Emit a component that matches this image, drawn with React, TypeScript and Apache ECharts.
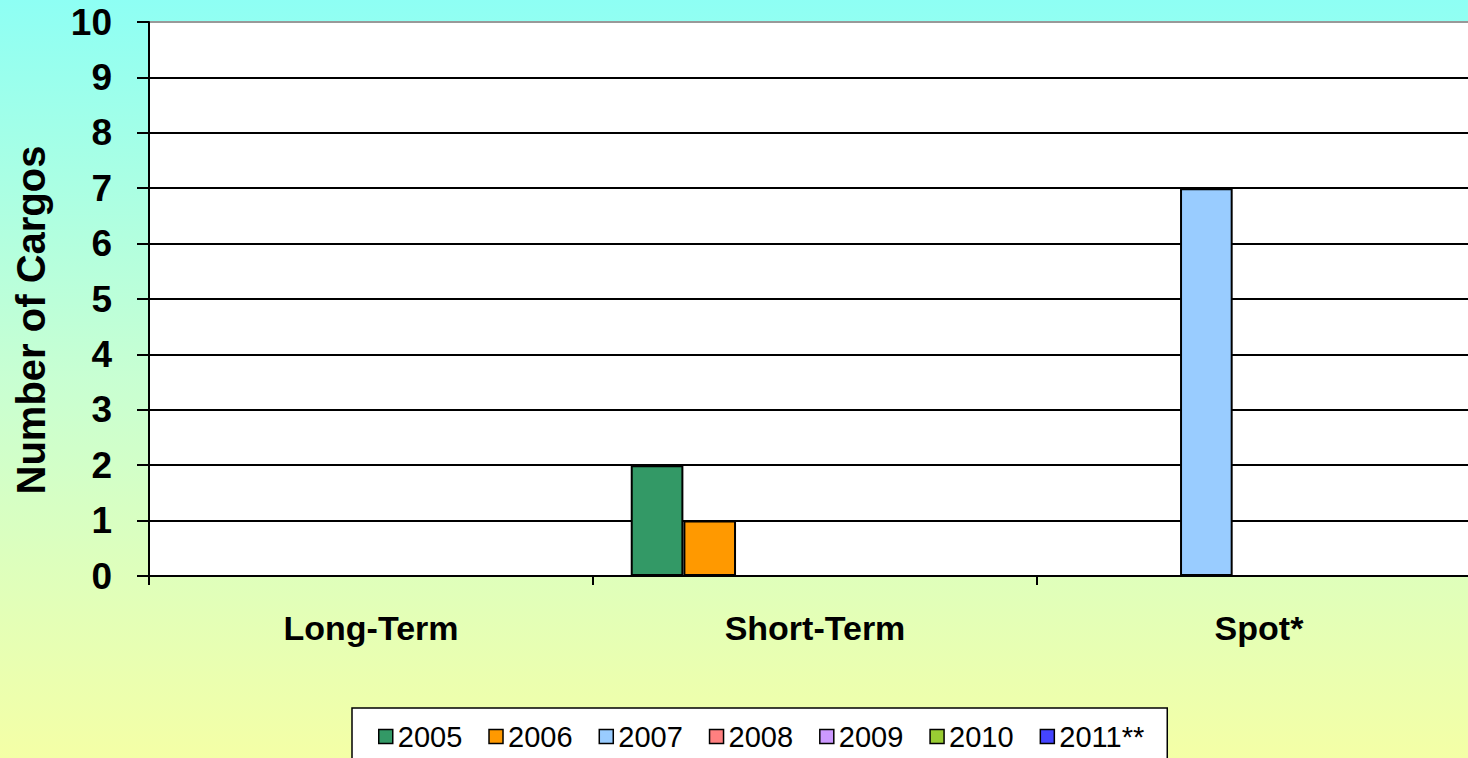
import React, { useEffect, useRef } from "react";
import * as echarts from "echarts";

const categories = ["Long-Term", "Short-Term", "Spot*"];
const seriesNames = ["2005", "2006", "2007", "2008", "2009", "2010", "2011**"];
const values2005 = [0, 2, 0];
const values2006 = [0, 1, 0];
const values2007 = [0, 0, 7];
const values2008 = [0, 0, 0];
const values2009 = [0, 0, 0];
const values2010 = [0, 0, 0];
const values2011 = [0, 0, 0];
const seriesColors = ["#339966", "#FF9900", "#99CCFF", "#FF8080", "#CC99FF", "#99CC33", "#4444FF"];
const yTitle = "Number of Cargos";

const FONT = "'Liberation Sans', Arial, sans-serif";

export default function App() {
  const ref = useRef<HTMLDivElement>(null);
  useEffect(() => {
    if (!ref.current) return;
    document.body.style.overflow = "hidden";
    const chart = echarts.init(ref.current, null, { renderer: "svg" });
    const allValues = [values2005, values2006, values2007, values2008, values2009, values2010, values2011];
    chart.setOption({
      animation: false,
      backgroundColor: new echarts.graphic.LinearGradient(0, 0, 0, 1, [
        { offset: 0, color: "#8EFFF4" },
        { offset: 0.5, color: "#C8FFD2" },
        { offset: 1, color: "#F4FFA6" },
      ]),
      textStyle: { fontFamily: FONT },
      grid: {
        left: 149,
        top: 22,
        right: 0,
        bottom: 182,
        show: true,
        backgroundColor: "#FFFFFF",
        borderColor: "#999999",
        borderWidth: 2,
      },
      legend: {
        data: seriesNames,
        left: 352,
        top: 708,
        padding: [14, 23, 30, 26],
        backgroundColor: "#FFFFFF",
        borderColor: "#000000",
        borderWidth: 1.5,
        borderRadius: 0,
        itemWidth: 14,
        itemHeight: 14,
        itemGap: 26,
        icon: "rect",
        itemStyle: { borderColor: "#000000", borderWidth: 1.5 },
        textStyle: { fontSize: 29, color: "#000000", fontFamily: FONT },
      },
      xAxis: {
        type: "category",
        data: categories,
        axisLine: { show: true, lineStyle: { color: "#000000", width: 2 } },
        axisTick: { show: true, length: 9, lineStyle: { color: "#000000", width: 2 } },
        axisLabel: { fontSize: 34, fontWeight: "bold", color: "#000000", margin: 35, fontFamily: FONT },
        splitLine: { show: false },
      },
      yAxis: {
        type: "value",
        min: 0,
        max: 10,
        interval: 1,
        axisLine: { show: true, lineStyle: { color: "#000000", width: 2 } },
        axisTick: { show: true, length: 12, lineStyle: { color: "#000000", width: 2 } },
        axisLabel: { fontSize: 37, fontWeight: "bold", color: "#000000", margin: 37, fontFamily: FONT },
        splitLine: { show: true, showMaxLine: false, lineStyle: { color: "#000000", width: 2 } },
      },
      graphic: [
        {
          type: "text",
          x: 31,
          y: 320,
          rotation: Math.PI / 2,
          style: {
            text: yTitle,
            fontSize: 40,
            fontWeight: "bold",
            fontFamily: FONT,
            fill: "#000000",
            align: "center",
            verticalAlign: "middle",
          },
        },
      ],
      series: seriesNames.map((name, i) => ({
        name,
        type: "bar",
        data: allValues[i],
        barGap: "0%",
        barCategoryGap: "17%",
        itemStyle: { color: seriesColors[i], borderColor: "#000000", borderWidth: 2 },
      })),
    });
    return () => chart.dispose();
  }, []);
  return (
    <div
      ref={ref}
      style={{ position: "fixed", left: 0, top: 0, width: 1481, height: 758 }}
    />
  );
}
